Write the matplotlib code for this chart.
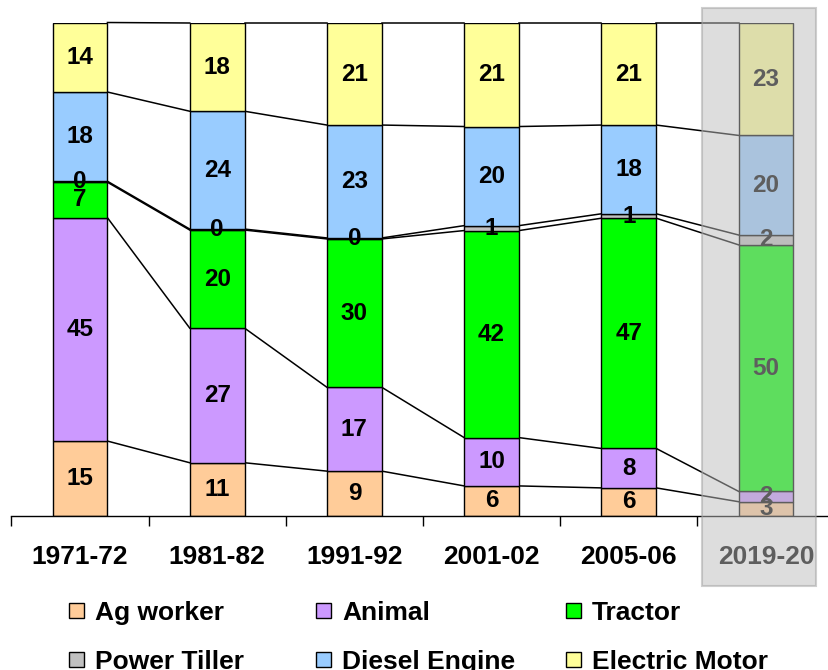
import matplotlib
matplotlib.use("Agg")
import matplotlib.pyplot as plt
from matplotlib.patches import Rectangle
import numpy as np

plt.rcParams["font.family"] = ["Liberation Sans", "DejaVu Sans"]
plt.rcParams["font.weight"] = "bold"

# share of farm power by source (%)
years = ["1971-72", "1981-82", "1991-92", "2001-02", "2005-06", "2019-20"]
sources = ["Ag worker", "Animal", "Tractor", "Power Tiller", "Diesel Engine", "Electric Motor"]
ag_worker = [15.2, 10.8, 9.1, 6.1, 5.7, 2.9]
animal = [45.3, 27.3, 17.0, 9.8, 8.0, 2.1]
tractor = [7.2, 19.9, 30.1, 42.0, 46.7, 50.0]
power_tiller = [0.2, 0.2, 0.2, 1.0, 0.9, 2.0]
diesel_engine = [18.1, 23.9, 22.9, 20.1, 18.0, 20.2]
electric_motor = [14.1, 17.9, 20.7, 21.0, 20.7, 22.8]
colors = ["#ffcc99", "#cc99ff", "#00ff00", "#c0c0c0", "#99ccff", "#ffff99"]

series = [ag_worker, animal, tractor, power_tiller, diesel_engine, electric_motor]

W, H = 829, 670
fig = plt.figure(figsize=(W / 100, H / 100), dpi=100)
ax = fig.add_axes([11.4 / W, (H - 516) / H, 823.2 / W, 493 / H])

x = np.arange(len(years))
width = 0.40
bottom = np.zeros(len(years))
levels = []
for vals, col in zip(series, colors):
    vals = np.array(vals)
    ax.bar(x, vals, width, bottom=bottom, color=col, edgecolor="black", linewidth=1.0, zorder=2)
    for xi, b, v in zip(x, bottom, vals):
        ax.text(xi, b + v / 2, f"{round(v)}", ha="center", va="center",
                fontsize=17.5, fontweight="bold", color="black", zorder=3)
    bottom = bottom + vals
    levels.append(bottom.copy())

# series lines joining the segment tops of neighbouring bars
for lev in levels:
    for i in range(len(years) - 1):
        ax.plot([x[i] + width / 2, x[i + 1] - width / 2], [lev[i], lev[i + 1]],
                color="black", lw=1.1, zorder=1, clip_on=False)

ax.set_xlim(-0.5, len(years) - 0.5)
ax.set_ylim(0, 100)
ax.set_xticks(x)
ax.set_xticklabels(years, fontsize=19, fontweight="bold")
ax.set_xticks(np.arange(-0.5, len(years)), minor=True)
ax.tick_params(axis="x", which="major", length=0, pad=21)
ax.tick_params(axis="x", which="minor", length=7.2, width=1.0, direction="out")
ax.set_yticks([])
for side in ["left", "right", "top"]:
    ax.spines[side].set_visible(False)
ax.spines["bottom"].set_linewidth(1.0)

# greyed-out box over the latest year
ax.add_patch(Rectangle((4.534, -14.2), 0.83, 117.2, facecolor="#bcbcbc", alpha=0.5,
                       edgecolor="#a0a0a0", linewidth=1.5, zorder=10, clip_on=False))

# legend, two rows of three
col_x = [69, 316, 566]
row_y = [620, 669]
for k, (name, col) in enumerate(zip(sources, colors)):
    px, py = col_x[k % 3], row_y[k // 3]
    fig.add_artist(Rectangle((px / W, 1 - (py - 2) / H), 15 / W, 15.5 / H,
                             transform=fig.transFigure, facecolor=col,
                             edgecolor="black", linewidth=1.0))
    fig.text((px + 26) / W, 1 - py / H, name, fontsize=19, fontweight="bold",
             va="baseline", ha="left")

fig.savefig("out.png", dpi=100)
